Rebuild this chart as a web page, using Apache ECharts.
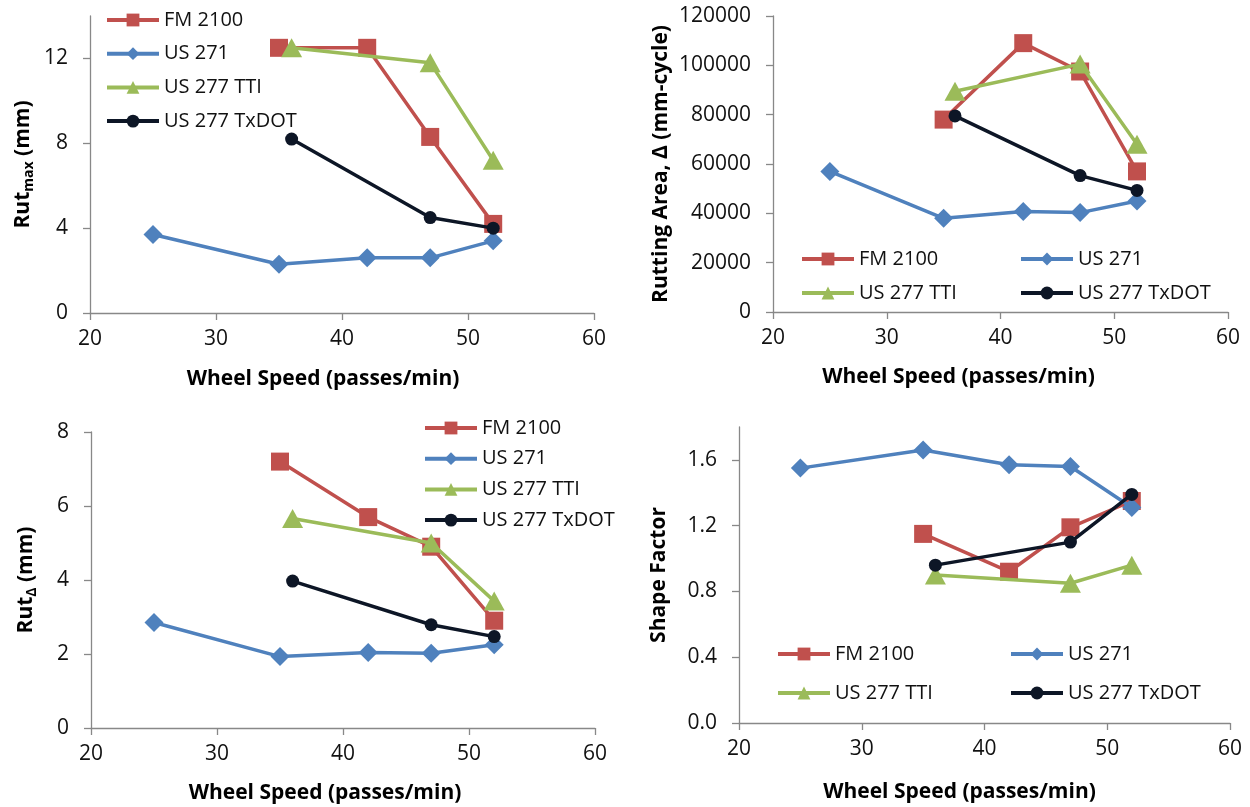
<!DOCTYPE html>
<html>
<head>
<meta charset="utf-8">
<script src="https://cdn.jsdelivr.net/npm/echarts@6/dist/echarts.min.js"></script>
<style>
html,body{margin:0;padding:0;background:#fff;}
#chart{width:1250px;height:807px;}
</style>
</head>
<body>
<div id="chart"></div>
<script>
// ---- data ----
const seriesNames = ['FM 2100', 'US 271', 'US 277 TTI', 'US 277 TxDOT'];
const speedFM = [35, 42, 47, 52];
const speedUS271 = [25, 35, 42, 47, 52];
const speedTTI = [36, 47, 52];
const speedTxDOT = [36, 47, 52];

// Panel 1: Rut max (mm)
const rutMaxFM = [12.5, 12.5, 8.3, 4.2];
const rutMaxUS271 = [3.7, 2.3, 2.6, 2.6, 3.4];
const rutMaxTTI = [12.5, 11.8, 7.2];
const rutMaxTxDOT = [8.2, 4.5, 4.0];

// Panel 2: Rutting area (mm-cycle)
const areaFM = [78000, 109000, 97500, 57000];
const areaUS271 = [57000, 38000, 40700, 40300, 45000];
const areaTTI = [89500, 100500, 68000];
const areaTxDOT = [79500, 55300, 49300];

// Panel 3: Rut delta (mm)
const rutDeltaFM = [7.2, 5.7, 4.9, 2.9];
const rutDeltaUS271 = [2.85, 1.93, 2.04, 2.02, 2.25];
const rutDeltaTTI = [5.66, 5.0, 3.43];
const rutDeltaTxDOT = [3.97, 2.79, 2.47];

// Panel 4: Shape factor
const shapeFM = [1.15, 0.92, 1.19, 1.35];
const shapeUS271 = [1.55, 1.66, 1.57, 1.56, 1.31];
const shapeTTI = [0.9, 0.85, 0.96];
const shapeTxDOT = [0.96, 1.1, 1.39];

// tick labels
const xTicks = [20, 30, 40, 50, 60];
const rutMaxTicks = [0, 4, 8, 12];
const areaTicks = [0, 20000, 40000, 60000, 80000, 100000, 120000];
const rutDeltaTicks = [0, 2, 4, 6, 8];
const shapeTicks = [0, 0.4, 0.8, 1.2, 1.6];

// ---- styling ----
const FONT = 'Open Sans';
const colors = ['#C0504D', '#4F81BD', '#9BBB59', '#0D1626'];
const symbols = ['rect', 'diamond', 'triangle', 'circle'];
const symbolSizes = [18, 19, [21, 19], 13];
const speeds = [speedFM, speedUS271, speedTTI, speedTxDOT];

const panels = [
  [rutMaxFM, rutMaxUS271, rutMaxTTI, rutMaxTxDOT],
  [areaFM, areaUS271, areaTTI, areaTxDOT],
  [rutDeltaFM, rutDeltaUS271, rutDeltaTTI, rutDeltaTxDOT],
  [shapeFM, shapeUS271, shapeTTI, shapeTxDOT]
];

const grids = [
  {left: 90, top: 16, width: 504, height: 297},
  {left: 773, top: 16, width: 455, height: 296},
  {left: 91, top: 432, width: 504, height: 296},
  {left: 739, top: 427, width: 491, height: 296}
];

const axisLineStyle = {color: '#888888', width: 1.3};
const labelStyle = {color: '#111111', fontSize: 21, fontFamily: FONT};
const nameStyleBase = {color: '#000', fontSize: 21, fontWeight: 'bold', fontFamily: FONT};

const xNamePad = [[0, 38, 0, 0], [0, 84, 0, 0], [0, 36, 0, 0], [0, 50, 0, 0]];
const xNameGap = [56, 55, 55, 59];

const xAxes = grids.map((g, i) => ({
  type: 'value', gridIndex: i, min: 20, max: 60, interval: 10,
  axisLine: {show: true, onZero: false, lineStyle: axisLineStyle},
  axisTick: {show: true, length: 7, lineStyle: axisLineStyle, customValues: xTicks},
  axisLabel: Object.assign({margin: 16, customValues: xTicks}, labelStyle),
  splitLine: {show: false},
  name: 'Wheel Speed (passes/min)', nameLocation: 'middle', nameGap: xNameGap[i],
  nameTextStyle: Object.assign({padding: xNamePad[i]}, nameStyleBase)
}));

const yCfg = [
  {min: 0, max: 14, interval: 4, ticks: rutMaxTicks, gap: 54, fmt: v => String(v),
   name: '{b|Rut}{s|max}{b| (mm)}'},
  {min: 0, max: 120000, interval: 20000, ticks: areaTicks, gap: 101, fmt: v => String(v),
   name: 'Rutting Area, Δ (mm-cycle)'},
  {min: 0, max: 8, interval: 2, ticks: rutDeltaTicks, gap: 52, fmt: v => String(v),
   name: '{b|Rut}{s|Δ}{b| (mm)}'},
  {min: 0, max: 1.8, interval: 0.4, ticks: shapeTicks, gap: 69, fmt: v => v.toFixed(1),
   name: 'Shape Factor'}
];

const yAxes = yCfg.map((c, i) => ({
  type: 'value', gridIndex: i, min: c.min, max: c.max, interval: c.interval,
  axisLine: {show: true, onZero: false, lineStyle: axisLineStyle},
  axisTick: {show: true, length: 7, lineStyle: axisLineStyle, customValues: c.ticks},
  axisLabel: Object.assign({margin: 22, formatter: c.fmt, customValues: c.ticks}, labelStyle),
  splitLine: {show: false},
  name: c.name, nameLocation: 'middle', nameGap: c.gap, nameRotate: 90,
  nameTextStyle: Object.assign({
    rich: {
      b: {fontSize: 21, fontWeight: 'bold', fontFamily: FONT, color: '#000', lineHeight: 26, verticalAlign: 'middle'},
      s: {fontSize: 14, fontWeight: 'bold', fontFamily: FONT, color: '#000', lineHeight: 26, verticalAlign: 'bottom'}
    }
  }, nameStyleBase)
}));

const series = [];
panels.forEach((vals, p) => {
  vals.forEach((ys, s) => {
    series.push({
      name: seriesNames[s],
      type: 'line',
      xAxisIndex: p, yAxisIndex: p,
      data: speeds[s].map((x, k) => [x, ys[k]]),
      symbol: symbols[s],
      symbolSize: symbolSizes[s],
      showAllSymbol: true,
      color: colors[s],
      lineStyle: {width: 3.5, color: colors[s]},
      itemStyle: {color: colors[s]},
      emphasis: {disabled: true},
      animation: false,
      z: 2 + s
    });
  });
});

const legTextStyle = {fontSize: 20, fontFamily: FONT, color: '#111111', lineHeight: 20};
function legend(data, left, top, gap) {
  return {
    data: data, orient: 'vertical', left: left, top: top,
    itemWidth: 52, itemHeight: 16, itemGap: gap,
    lineStyle: {width: 4},
    textStyle: legTextStyle, padding: 0, selectedMode: false
  };
}

const option = {
  backgroundColor: '#ffffff',
  animation: false,
  grid: grids,
  xAxis: xAxes,
  yAxis: yAxes,
  legend: [
    legend(seriesNames, 105, 10, 13.7),
    legend(['FM 2100', 'US 277 TTI'], 800, 249, 14),
    legend(['US 271', 'US 277 TxDOT'], 1019, 249, 14),
    legend(seriesNames, 423, 418, 10.7),
    legend(['FM 2100', 'US 277 TTI'], 776, 644, 19),
    legend(['US 271', 'US 277 TxDOT'], 1009, 644, 19)
  ],
  series: series
};

const chart = echarts.init(document.getElementById('chart'), null, {renderer: 'canvas'});
chart.setOption(option);
</script>
</body>
</html>
